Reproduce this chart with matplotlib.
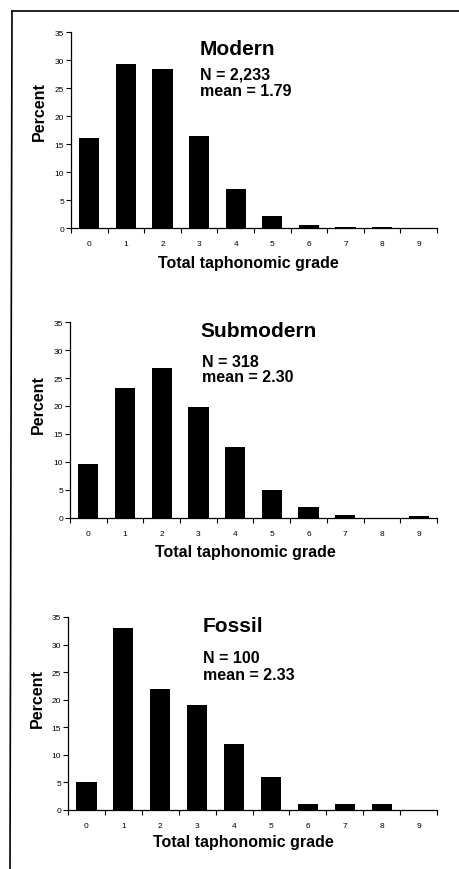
import numpy as np
import matplotlib.pyplot as plt
from matplotlib.lines import Line2D

plt.rcParams['font.family'] = ['Liberation Sans', 'DejaVu Sans']

grades = np.arange(10)
grade_labels = [str(g) for g in grades]

modern = [16.0, 29.3, 28.4, 16.4, 7.0, 2.1, 0.6, 0.1, 0.1, 0.0]
submodern = [9.7, 23.3, 26.7, 19.8, 12.6, 5.0, 1.9, 0.6, 0.0, 0.3]
fossil = [5, 33, 22, 19, 12, 6, 1, 1, 1, 0]

titles = ["Modern", "Submodern", "Fossil"]
n_text = ["N = 2,233", "N = 318", "N = 100"]
mean_text = ["mean = 1.79", "mean = 2.30", "mean = 2.33"]
series = [modern, submodern, fossil]

W, H = 460, 870
fig = plt.figure(figsize=(W / 100, H / 100), dpi=100)


def px(x, y):
    return x / W, 1 - y / H


# axes boxes in pixels: left, right, top (y=35), bottom (y=0)
boxes = [(71, 437, 33, 229), (70, 437, 323, 519), (68, 437, 618, 811)]
title_pos = [(200, 55), (200, 337), (203, 632)]
n_pos = [(200, 79), (202, 367), (203, 663)]
mean_pos = [(200, 96), (202, 382), (203, 680)]
ylab_pos = [(39, 112), (38, 405), (37, 699)]
xlab_pos = [(248, 268), (245, 557), (243, 847)]

for i in range(3):
    l, r, t, b = boxes[i]
    ax = fig.add_axes([l / W, 1 - b / H, (r - l) / W, (b - t) / H])
    ax.bar(grades, series[i], width=0.55, color='black')
    ax.set_xlim(-0.5, 9.5)
    ax.set_ylim(0, 35)
    ax.spines['top'].set_visible(False)
    ax.spines['right'].set_visible(False)
    ax.spines['left'].set_linewidth(0.9)
    ax.spines['bottom'].set_linewidth(0.9)
    ax.set_yticks(np.arange(0, 36, 5))
    ax.tick_params(axis='y', direction='out', length=3.5, width=0.8,
                   labelsize=6, pad=1.5)
    ax.set_xticks(grades)
    ax.set_xticklabels(grade_labels)
    ax.tick_params(axis='x', which='major', length=0, labelsize=6, pad=9)
    ax.set_xticks(np.arange(-0.5, 10, 1), minor=True)
    ax.tick_params(axis='x', which='minor', direction='out', length=3.5, width=0.8)

    fig.text(*px(*title_pos[i]), titles[i], fontsize=15, fontweight='bold',
             va='baseline', ha='left')
    fig.text(*px(*n_pos[i]), n_text[i], fontsize=11.5, fontweight='bold',
             va='baseline', ha='left')
    fig.text(*px(*mean_pos[i]), mean_text[i], fontsize=11.5, fontweight='bold',
             va='baseline', ha='left')
    fig.text(*px(*ylab_pos[i]), "Percent", fontsize=11.5, fontweight='bold',
             rotation=90, va='center', ha='center')
    fig.text(*px(*xlab_pos[i]), "Total taphonomic grade", fontsize=11.5,
             fontweight='bold', va='baseline', ha='center')

# page border
fig.add_artist(Line2D([12 / W, 10 / W], [1 - 12 / H, 0], color='black', lw=1.2))
fig.add_artist(Line2D([12 / W, 1], [1 - 12 / H, 1 - 12 / H], color='black', lw=1.2))

fig.savefig("out.png", dpi=100)
